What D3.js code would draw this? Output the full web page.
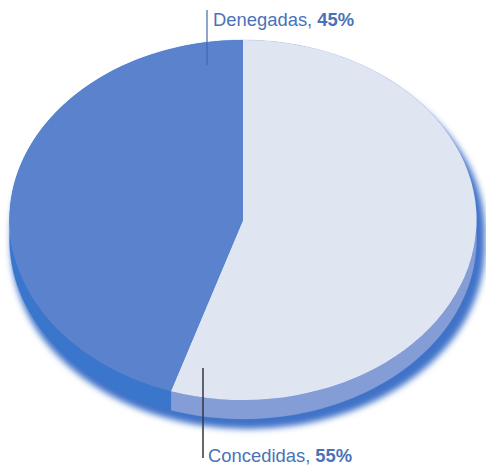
<!DOCTYPE html>
<html><head><meta charset="utf-8">
<script src="https://cdn.jsdelivr.net/npm/d3@7"></script>
<style>html,body{margin:0;padding:0;background:#fff}svg{display:block}text{font-family:"Liberation Sans",Arial,sans-serif;font-size:18.4px;fill:#4a72b8}</style>
</head><body><svg width="486" height="471"></svg>
<script>
const categories = ["Denegadas", "Concedidas"];
const values = [45, 55];
const topColors = ["#5a82cd", "#e0e5f2"];
const sideColors = ["#3a76cc", "#859dd6"];
const shadowColor = "#3f72c8";
const cx = 243, cy = 220, rx = 233.5, ry = 180, depth = 19;

const svg = d3.select("svg");
svg.append("defs").append("filter").attr("id","soft")
  .attr("x","-10%").attr("y","-10%").attr("width","120%").attr("height","120%")
  .append("feGaussianBlur").attr("stdDeviation",3);

// Clockwise from twelve o'clock: Concedidas, then Denegadas
const drawOrder = [1, 0];
const slices = d3.pie().sort(null)(drawOrder.map(i => values[i]))
  .map((s, k) => ({...s, idx: drawOrder[k]}));
const arc = d3.arc().innerRadius(0).outerRadius(rx);
const yScale = ry / rx;

// Shadow: the whole body, offset and blurred
const layers = d3.range(0, depth + 1);
svg.append("g").attr("filter","url(#soft)")
  .selectAll("ellipse").data(layers).join("ellipse")
  .attr("cx", cx + 5).attr("cy", d => cy + 10 + d)
  .attr("rx", rx + 3).attr("ry", ry).attr("fill", shadowColor);

// Side wall: a band along each slice's rim
const rim = (a, dy) => [cx + rx * Math.sin(a), cy - ry * Math.cos(a) + dy];
const band = s => {
  const n = 120;
  const as = d3.range(n + 1).map(i => s.startAngle + (s.endAngle - s.startAngle) * i / n);
  return d3.line()([...as.map(a => rim(a, 0)), ...as.slice().reverse().map(a => rim(a, depth))]) + "Z";
};
svg.append("g").selectAll("path").data(slices).join("path")
  .attr("d", band).attr("fill", d => sideColors[d.idx])
  .attr("stroke", d => sideColors[d.idx]).attr("stroke-width", 0.3);

// Top face
svg.append("g").attr("transform", `translate(${cx},${cy}) scale(1,${yScale})`)
  .selectAll("path").data(slices).join("path")
  .attr("d", arc).attr("fill", d => topColors[d.idx]);

// Leaders and labels
const labels = [
 {i:0, x:213, y:25.5, lx:207, ly1:10, ly2:65, c:"#4568a8", w:1.2},
 {i:1, x:208, y:462, lx:203, ly1:368, ly2:458, c:"#33363f", w:1.5}
];
svg.selectAll("line.l").data(labels).join("line").attr("class","l")
  .attr("x1", d => d.lx).attr("x2", d => d.lx).attr("y1", d => d.ly1).attr("y2", d => d.ly2)
  .attr("stroke", d => d.c).attr("stroke-width", d => d.w);
const t = svg.selectAll("text.t").data(labels).join("text").attr("class","t")
  .attr("x", d => d.x).attr("y", d => d.y);
t.append("tspan").text(d => categories[d.i] + ", ");
t.append("tspan").attr("font-weight","bold").text(d => values[d.i] + "%");
</script></body></html>
